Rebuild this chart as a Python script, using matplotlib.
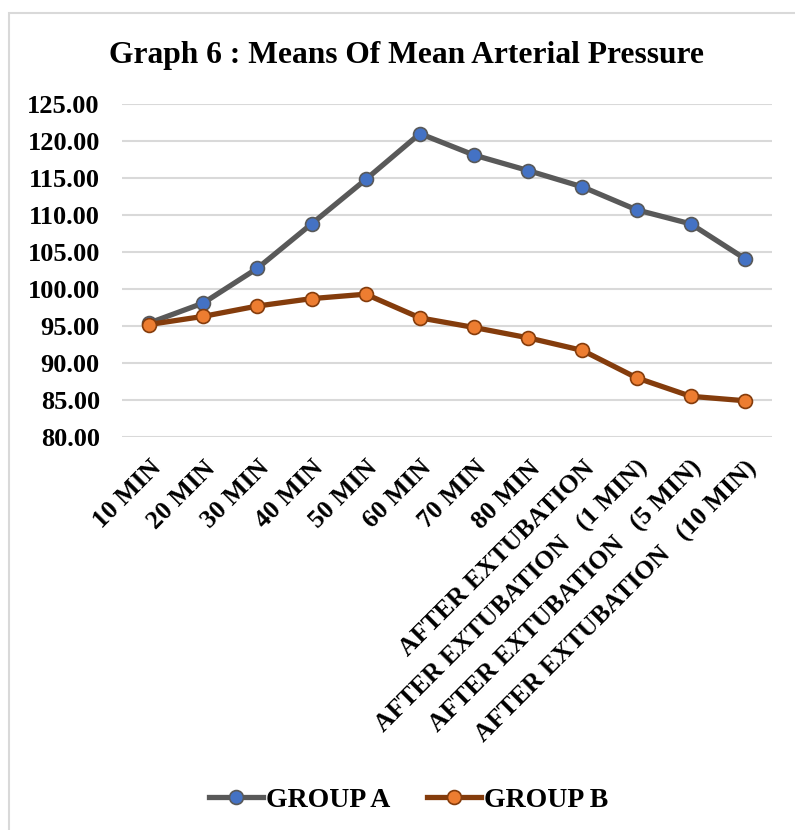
import numpy as np
import matplotlib
matplotlib.use("Agg")
import matplotlib.pyplot as plt
from matplotlib.patches import Rectangle

plt.rcParams['font.family'] = ['Liberation Serif', 'DejaVu Serif']
plt.rcParams['font.weight'] = 'bold'

# data
categories = ['10 MIN', '20 MIN', '30 MIN', '40 MIN', '50 MIN', '60 MIN',
              '70 MIN', '80 MIN', 'AFTER EXTUBATION',
              'AFTER EXTUBATION   (1 MIN)', 'AFTER EXTUBATION   (5 MIN)',
              'AFTER EXTUBATION   (10 MIN)']
group_a = [95.4, 98.1, 102.8, 108.8, 114.8, 121.0, 118.1, 116.0, 113.8, 110.7, 108.8, 104.1]
group_b = [95.2, 96.3, 97.7, 98.7, 99.3, 96.1, 94.8, 93.4, 91.7, 88.0, 85.5, 84.9]
yticks = np.arange(80, 126, 5)

fig = plt.figure(figsize=(7.95, 8.3), dpi=100)
fig.patches.append(Rectangle((9 / 795, -0.1), 1.2, 1 - 13 / 830 + 0.1,
                             transform=fig.transFigure, fill=False,
                             edgecolor='#d9d9d9', linewidth=1.5))

ax = fig.add_axes([122 / 795, 1 - 437 / 830, 650 / 795, 333 / 830])
x = np.arange(len(categories))

ax.plot(x, group_a, color='#595959', lw=3.8, marker='o', ms=10,
        mfc='#4472c4', mec='#595959', mew=1.2, label='GROUP A', zorder=3)
ax.plot(x, group_b, color='#843c0c', lw=3.8, marker='o', ms=10,
        mfc='#ed7d31', mec='#843c0c', mew=1.2, label='GROUP B', zorder=3)

ax.set_xlim(-0.5, len(categories) - 0.5)
ax.set_ylim(80, 125)
ax.set_yticks(yticks)
ax.set_yticklabels(['%.2f' % v for v in yticks], fontsize=19, fontweight='bold')
ax.set_xticks(x)
ax.set_xticklabels(categories, rotation=45, ha='right', rotation_mode='anchor',
                   fontsize=18.5, fontweight='bold')
ax.tick_params(axis='both', length=0)
ax.tick_params(axis='y', pad=16)
ax.tick_params(axis='x', pad=14)
ax.grid(axis='y', color='#d9d9d9', lw=1.5)
ax.set_axisbelow(True)
for s in ax.spines.values():
    s.set_visible(False)

fig.text(0.511, 1 - 55 / 830, 'Graph 6 : Means Of Mean Arterial Pressure',
         ha='center', va='center', fontsize=22.7, fontweight='bold')

fig.legend(loc='center', bbox_to_anchor=(0.514, 1 - 800 / 830), ncol=2,
           frameon=False, prop={'size': 20, 'weight': 'bold'},
           handlelength=1.95, handletextpad=0.1, columnspacing=1.3)

fig.savefig('out.png', dpi=100)
